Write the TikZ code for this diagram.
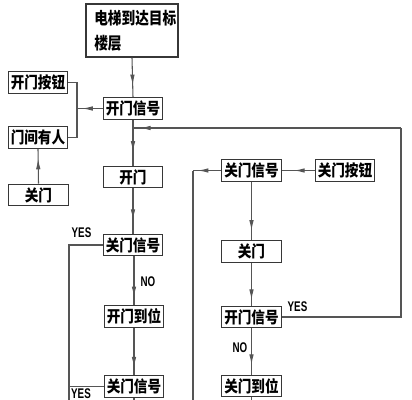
\documentclass[tikz,border=0pt]{standalone}
\usepackage{fontspec}
\newfontfamily\cjk{Noto Sans CJK SC}
\newfontfamily\lat{Liberation Sans}
\usetikzlibrary{arrows.meta,decorations.markings}
\definecolor{linec}{RGB}{85,85,85}
\definecolor{boxc}{RGB}{55,55,55}
\tikzset{
  bx/.style={draw=boxc,line width=0.95pt,inner sep=0pt,minimum width=44.6pt,minimum height=16.1pt,
    font=\cjk\bfseries\fontsize{12}{14}\selectfont},
  ln/.style={draw=linec,line width=0.8pt},
  marr/.style={postaction={decorate,decoration={markings,mark=at position #1 with {\arrow[linec]{Latex[length=8pt,width=3.4pt]}}}}},
  lab/.style={inner sep=0pt,font=\lat\bfseries\fontsize{10.5}{12}\selectfont},
  ttxt/.style={inner sep=0pt,anchor=west,font=\cjk\bfseries\fontsize{12.5}{14}\selectfont}
}
\newcommand{\sq}[1]{\scalebox{0.85}[1]{#1}}
\begin{document}
\begin{tikzpicture}[x=0.75pt,y=-0.75pt]
\useasboundingbox (0,0) rectangle (412,400);
\fill[white] (0,0) rectangle (412,400);
\clip (0,0) rectangle (412,400);
% top box
\node[draw=boxc,line width=0.95pt,minimum width=69pt,minimum height=39.75pt,inner sep=0pt] (top) at (132,30.5) {};
\node[ttxt] (t1) at (94,18) {\scalebox{0.82}[1]{电梯到达目标}};
\node[ttxt] (t2) at (94,43) {\scalebox{0.82}[1]{楼层}};
% left boxes
\node[bx] (kman) at (38,82.5) {\sq{开门按钮}};
\node[bx] (mjyr) at (38,137.5) {\sq{门间有人}};
\node[bx] (gmL) at (38.5,195) {\sq{关门}};
% centre column
\node[bx] (kmxh) at (133,108.5) {\sq{开门信号}};
\node[bx] (km) at (133,177) {\sq{开门}};
\node[bx] (gmxh1) at (133,245) {\sq{关门信号}};
\node[bx] (kmdw) at (134,316.5) {\sq{开门到位}};
\node[bx] (gmxh2) at (134,386.5) {\sq{关门信号}};
% right column
\node[bx] (gmxhR) at (251.5,170.5) {\sq{关门信号}};
\node[bx] (gman) at (345,170.5) {\sq{关门按钮}};
\node[bx] (gmR) at (251.5,251.5) {\sq{关门}};
\node[bx] (kmxhR) at (251.5,317) {\sq{开门信号}};
\node[bx] (gmdw) at (251.5,386) {\sq{关门到位}};
% coordinates
\coordinate (br1) at (77,82.5);
\coordinate (br2) at (77,137.5);
\coordinate (brm) at (77,108.5);
\coordinate (rc1) at (401,317);
\coordinate (rc2) at (401,128);
\coordinate (jl) at (133,128);
\coordinate (lc1) at (193,170.5);
\coordinate (lc2) at (193,402);
\coordinate (y1) at (69,245);
\coordinate (y2) at (69,402);
\coordinate (y3) at (69,386.5);
\coordinate (b1) at (134,402);
\coordinate (b2) at (251.5,402);
% connectors
\draw[ln,marr=0.7] (top.south) -- (kmxh.north);
\draw[ln] (kman.east) -- (br1) -- (br2) -- (mjyr.east);
\draw[ln,marr=0.8] (kmxh.west) -- (brm);
\draw[ln,marr=0.72] (gmL.north) -- (mjyr.south);
\draw[ln,marr=0.7] (kmxh.south) -- (km.north);
\draw[ln,marr=0.7] (km.south) -- (gmxh1.north);
\draw[ln,marr=0.84] (gmxh1.south) -- (gmxh1.south -| kmdw.north) -- (kmdw.north);
\draw[ln,marr=0.84] (kmdw.south) -- (gmxh2.north);
\draw[ln] (gmxh2.south) -- (b1);
\draw[ln] (gmxh1.west) -- (y1) -- (y2);
\draw[ln] (gmxh2.west) -- (y3);
\draw[ln] (kmxhR.east) -- (rc1) -- (rc2);
\draw[ln,marr=0.974] (rc2) -- (jl);
\draw[ln,marr=0.63] (gman.west) -- (gmxhR.east);
\draw[ln,marr=0.83] (gmxhR.west) -- (lc1);
\draw[ln] (lc1) -- (lc2);
\draw[ln,marr=0.84] (gmxhR.south) -- (gmR.north);
\draw[ln,marr=0.87] (gmR.south) -- (kmxhR.north);
\draw[ln,marr=0.79] (kmxhR.south) -- (gmdw.north);
\draw[ln] (gmdw.south) -- (b2);
% labels
\node[lab] (yes1) at (81.5,232.5) {\scalebox{0.7}[1]{YES}};
\node[lab] (no1) at (148,282) {\scalebox{0.7}[1]{NO}};
\node[lab] (yesR) at (297.5,306.5) {\scalebox{0.7}[1]{YES}};
\node[lab] (noR) at (240,348) {\scalebox{0.7}[1]{NO}};
\node[lab] (yes2) at (81,394) {\scalebox{0.7}[1]{YES}};
\end{tikzpicture}
\end{document}
